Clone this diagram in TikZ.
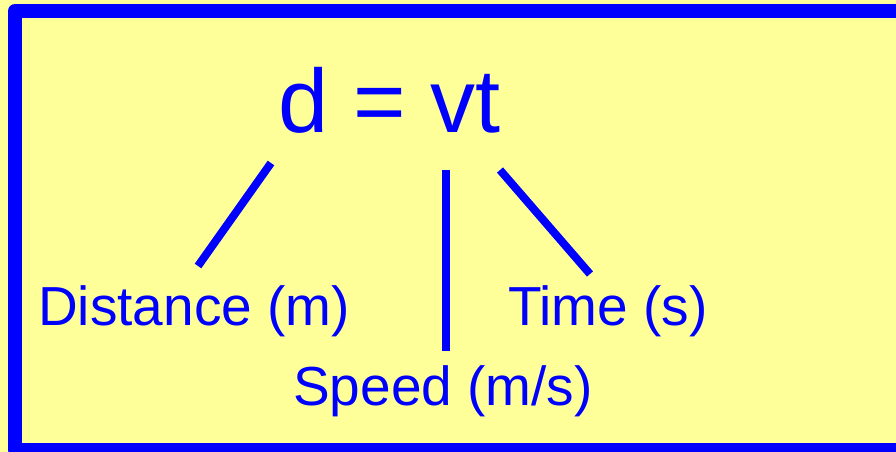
\documentclass[tikz,border=0pt]{standalone}
\usepackage{fontspec}
\setmainfont{Liberation Sans}
\definecolor{paper}{HTML}{FFFF99}
\definecolor{ink}{HTML}{0000FF}
\tikzset{
    label/.style={ink, inner sep=0pt, anchor=base west, font=\fontsize{55}{60}\selectfont},
    stroke/.style={ink, line width=8pt}
}
\begin{document}
\begin{tikzpicture}[x=1pt, y=-1pt]
    % Page and frame
    \useasboundingbox (0,0) rectangle (896,452);
    \clip (0,0) rectangle (896,452);
    \fill[paper] (0,0) rectangle (896,452);
    \draw[ink, line width=14pt, line join=round] (920,450) -- (15,450) -- (15,11) -- (920,11);

    % Equation and quantities
    \node[label, font=\fontsize{90}{100}\selectfont] (eq) at (278,132) {d = vt};
    \node[label] (dist) at (38,325) {Distance (m)};
    \node[label] (speed) at (293,405) {Speed (m/s)};
    \node[label] (time) at (508,325) {Time (s)};

    % Connecting strokes
    \coordinate (d1) at (271,163);
    \coordinate (d2) at (198,266);
    \coordinate (v1) at (446,170);
    \coordinate (v2) at (446,351);
    \coordinate (t1) at (500,170);
    \coordinate (t2) at (590,274);
    \draw[stroke] (d1) -- (d2);
    \draw[stroke] (v1) -- (v2);
    \draw[stroke] (t1) -- (t2);
\end{tikzpicture}
\end{document}
